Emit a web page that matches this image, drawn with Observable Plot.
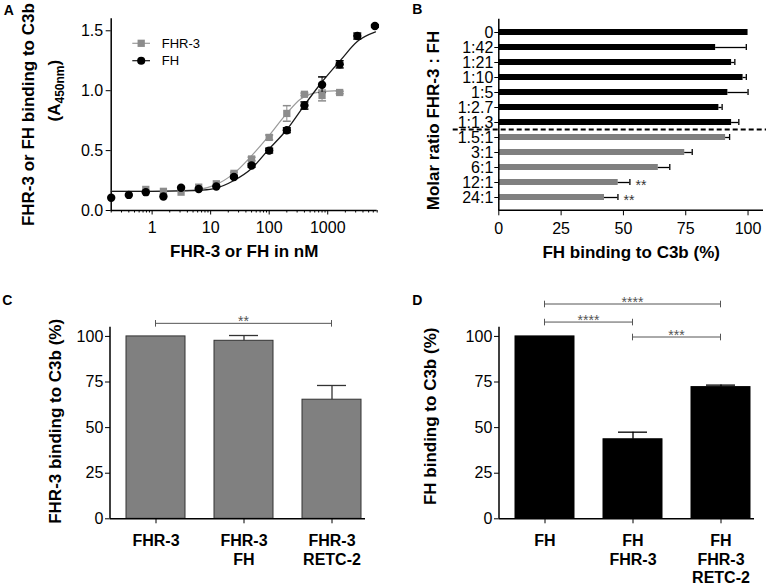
<!DOCTYPE html>
<html><head><meta charset="utf-8">
<script src="https://cdn.jsdelivr.net/npm/d3@7"></script>
<script src="https://cdn.jsdelivr.net/npm/@observablehq/plot@0.6"></script>
<style>
body{margin:0;background:#fff}
#fig{position:relative;width:767px;height:585px;background:#fff;overflow:hidden}
</style></head><body><div id="fig"></div>
<script>
// ---------- Panel A: dose response (A450nm) ----------
const fhConc   = [0.2,0.4,0.78,1.56,3.125,6.25,12.5,25,50,100,200,400,800,1600,3200,6400];
const fhAbs    = [0.106,0.13,0.153,0.117,0.19,0.18,0.20,0.28,0.376,0.50,0.67,0.876,1.05,1.22,1.456,1.54];
const fhErr    = [0,0,0,0,0,0,0,0.01,0.015,0.02,0.02,0.03,0.065,0.03,0.025,0.01];
const fhr3Conc = [0.78,1.56,3.125,6.25,12.5,25,50,100,200,400,800,1600];
const fhr3Abs  = [0.176,0.16,0.153,0.195,0.223,0.31,0.43,0.61,0.81,0.97,0.96,0.985];
const fhr3Err  = [0,0,0,0,0,0.01,0.015,0.02,0.065,0.01,0.045,0.01];
const fhFitConc   = [0.2,1,3,7,12,25,50,94,204,415,760,1660,3200,6550];
const fhFitAbs    = [0.16,0.16,0.163,0.17,0.185,0.25,0.35,0.5,0.68,0.89,1.06,1.255,1.41,1.49];
const fhr3FitConc = [0.2,1,3,6,11.5,25,48.5,94,192,345,760,1600];
const fhr3FitAbs  = [0.16,0.16,0.165,0.175,0.21,0.31,0.45,0.61,0.80,0.93,0.99,1.0];
const aYTicks  = [0,0.5,1,1.5];
const aXMajor  = [1,10,100,1000];
const aXMinor  = [0.2,0.3,0.4,0.5,0.6,0.7,0.8,0.9,2,3,4,5,6,7,8,9,20,30,40,50,60,70,80,90,200,300,400,500,600,700,800,900,2000,3000,4000,5000,6000,7000];
const aLegend  = ["FHR-3","FH"];

// ---------- Panel B: molar ratio ----------
const ratioCats  = ["0","1:42","1:21","1:10","1:5","1:2.7","1:1.3","1.5:1","3:1","6:1","12:1","24:1"];
const ratioPct   = [100,87,93.4,98,91.9,88.3,93.4,91,74.6,64,47.9,42.4];
const ratioErr   = [0,12.3,1.3,1.3,8.1,1.3,2.9,1.6,3,4.6,4.7,5.4];
const ratioGroup = ["FH","FH","FH","FH","FH","FH","FH","FHR-3","FHR-3","FHR-3","FHR-3","FHR-3"];
const ratioSig   = ["","","","","","","","","","","**","**"];
const bXTicks    = [0,25,50,75,100];

// ---------- Panel C ----------
const cCats = ["FHR-3","FHR-3\nFH","FHR-3\nRETC-2"];
const cPct  = [100,97.6,65.3];
const cErr  = [0,2.9,7.8];
const cSig  = [{from:"FHR-3", to:"FHR-3\nRETC-2", level:106.9, stars:"**"}];

// ---------- Panel D ----------
const dCats = ["FH","FH\nFHR-3","FH\nFHR-3\nRETC-2"];
const dPct  = [100,43.6,72.2];
const dErr  = [0,3.9,1.1];
const dSig  = [
  {from:"FH", to:"FH\nFHR-3\nRETC-2", level:117.5, stars:"****"},
  {from:"FH", to:"FH\nFHR-3", level:107.6, stars:"****"},
  {from:"FH\nFHR-3", to:"FH\nFHR-3\nRETC-2", level:99.4, stars:"***"}
];
const pctTicks = [0,25,50,75,100];

// ---------- helpers ----------
const FONT = "'Liberation Sans', Arial, Helvetica, sans-serif";
const TICK_FS = 16;
const baseStyle = {fontFamily: FONT, fontSize: "16px", color: "#000", background: "transparent"};
const fig = document.getElementById("fig");
function place(svg, left, top) {
  svg.style.position = "absolute"; svg.style.left = left + "px"; svg.style.top = top + "px";
  fig.appendChild(svg);
}
const capH = {draw(ctx, size) { const r = Math.sqrt(size / Math.PI); ctx.moveTo(-r, 0); ctx.lineTo(r, 0); }};
const axisLine = (side) => (index, scales, values, d) => {
  const l = d3.create("svg:line").attr("stroke", "#000").attr("stroke-width", 1.5);
  if (side === "left") l.attr("x1", d.marginLeft).attr("x2", d.marginLeft).attr("y1", d.marginTop).attr("y2", d.height - d.marginBottom);
  else l.attr("x1", d.marginLeft).attr("x2", d.width - d.marginRight).attr("y1", d.height - d.marginBottom).attr("y2", d.height - d.marginBottom);
  return l.node();
};
const bracketMark = (brackets, color) => (index, scales) => {
  const {x, y} = scales;
  const half = x.bandwidth ? x.bandwidth() / 2 : 0;
  const g = d3.create("svg:g").attr("stroke", color).attr("fill", "none").attr("stroke-width", 1);
  for (const b of brackets) {
    const x1 = x(b.from) + half, x2 = x(b.to) + half, yy = y(b.level);
    g.append("line").attr("x1", x1).attr("x2", x2).attr("y1", yy).attr("y2", yy);
    g.append("line").attr("x1", x1).attr("x2", x1).attr("y1", yy - 3.3).attr("y2", yy + 3.3);
    g.append("line").attr("x1", x2).attr("x2", x2).attr("y1", yy - 3.3).attr("y2", yy + 3.3);
    g.append("text").attr("x", (x1 + x2) / 2).attr("y", yy + 3).attr("text-anchor", "middle")
      .attr("stroke", "none").attr("fill", color).attr("font-size", 14).text(b.stars);
  }
  return g.node();
};
const letter = (ch, dx, dy) => Plot.text([ch], {text: d => d, frameAnchor: "top-left", textAnchor: "start", lineAnchor: "top", dx, dy, fontWeight: "bold", fontSize: 14});

// ---------- Panel A ----------
const fhData = fhConc.map((c, i) => ({c, v: fhAbs[i], e: fhErr[i]}));
const fhr3Data = fhr3Conc.map((c, i) => ({c, v: fhr3Abs[i], e: fhr3Err[i]}));
const fhFit = fhFitConc.map((c, i) => ({c, v: fhFitAbs[i]}));
const fhr3Fit = fhr3FitConc.map((c, i) => ({c, v: fhr3FitAbs[i]}));
const GREY_A = "#8c8c8c";

const legendA = (index, scales, values, d) => {
  const g = d3.create("svg:g").attr("font-size", 13);
  aLegend.forEach((name, i) => {
    const yy = 43.3 + i * 17.4, col = i === 0 ? GREY_A : "#000";
    g.append("line").attr("x1", 132.3).attr("x2", 150).attr("y1", yy).attr("y2", yy)
      .attr("stroke", i === 0 ? "#9a9a9a" : "#1a1a1a").attr("stroke-width", 1.2);
    g.append("path").attr("d", d3.symbol(i === 0 ? d3.symbolSquare : d3.symbolCircle, i === 0 ? 53 : 52)())
      .attr("transform", `translate(141.2,${yy})`).attr("fill", col);
    g.append("text").attr("x", 161.7).attr("y", yy).attr("dy", "0.35em").attr("text-anchor", "start")
      .attr("fill", "#000").text(name);
  });
  return g.node();
};

const plotA = Plot.plot({
  width: 383, height: 290,
  marginLeft: 110.7, marginRight: 6.3, marginTop: 18.3, marginBottom: 80,
  style: baseStyle,
  x: {type: "log", domain: [0.2, 7000]},
  y: {domain: [0, 1.6]},
  marks: [
    Plot.axisY({ticks: aYTicks, tickSize: 5, tickPadding: 3, tickFormat: d3.format(".1f"), label: null, fontSize: TICK_FS}),
    Plot.axisX({ticks: aXMajor, tickSize: 4.5, tickPadding: 6.5, tickFormat: d3.format("d"), label: null, fontSize: TICK_FS}),
    Plot.axisX({ticks: aXMinor, tickSize: 2.5, tickFormat: () => "", label: null}),
    Plot.ruleX([0.2], {strokeWidth: 1.5}),
    Plot.ruleY([0], {strokeWidth: 1.5}),
    Plot.line(fhr3Fit, {x: "c", y: "v", curve: "monotone-x", stroke: "#9a9a9a", strokeWidth: 1.2}),
    Plot.line(fhFit, {x: "c", y: "v", curve: "monotone-x", stroke: "#1a1a1a", strokeWidth: 1.3}),
    Plot.ruleX(fhr3Data.filter(d => d.e > 0), {x: "c", y1: d => d.v - d.e, y2: d => d.v + d.e, stroke: GREY_A}),
    Plot.dot(fhr3Data.filter(d => d.e > 0), {x: "c", y: d => d.v + d.e, symbol: capH, r: 4, stroke: GREY_A, fill: "none"}),
    Plot.dot(fhr3Data.filter(d => d.e > 0), {x: "c", y: d => d.v - d.e, symbol: capH, r: 4, stroke: GREY_A, fill: "none"}),
    Plot.ruleX(fhData.filter(d => d.e > 0), {x: "c", y1: d => d.v - d.e, y2: d => d.v + d.e, stroke: "#000"}),
    Plot.dot(fhData.filter(d => d.e > 0), {x: "c", y: d => d.v + d.e, symbol: capH, r: 4, stroke: "#000", fill: "none"}),
    Plot.dot(fhData.filter(d => d.e > 0), {x: "c", y: d => d.v - d.e, symbol: capH, r: 4, stroke: "#000", fill: "none"}),
    Plot.dot(fhr3Data, {x: "c", y: "v", symbol: "square", r: 4.1, fill: GREY_A}),
    Plot.dot(fhData, {x: "c", y: "v", symbol: "circle", r: 4.2, fill: "#000"}),
    legendA,
    Plot.text(["FHR-3 or FH binding to C3b"], {text: d => d, frameAnchor: "left", rotate: -90, textAnchor: "middle", lineAnchor: "middle", dx: -82.2, dy: 0, fontWeight: "bold", fontSize: 17}),
    Plot.text(["(A450nm)"], {text: d => d, frameAnchor: "left", rotate: -90, textAnchor: "middle", lineAnchor: "middle", dx: -56.2, dy: -24, fontWeight: "bold", fontSize: 17}),
    Plot.text(["FHR-3 or FH in nM"], {text: d => d, frameAnchor: "bottom", textAnchor: "middle", lineAnchor: "middle", dy: 41, fontWeight: "bold", fontSize: 17}),
    letter("A", -107.4, -13.3)
  ]
});
plotA.querySelectorAll("text").forEach(t => {
  if (t.textContent === "(A450nm)") {
    t.textContent = "";
    const ns = "http://www.w3.org/2000/svg";
    const a = document.createElementNS(ns, "tspan"); a.textContent = "(A"; t.appendChild(a);
    const s = document.createElementNS(ns, "tspan"); s.textContent = "450nm"; s.setAttribute("dy", "4"); s.setAttribute("font-size", "12"); t.appendChild(s);
    const c = document.createElementNS(ns, "tspan"); c.textContent = ")"; c.setAttribute("dy", "-4"); t.appendChild(c);
  }
});
place(plotA, 0, 0);

// ---------- Panel B ----------
const bData = ratioCats.map((cat, i) => ({cat, v: ratioPct[i], e: ratioErr[i], g: ratioGroup[i], s: ratioSig[i]}));
const plotB = Plot.plot({
  width: 387, height: 290,
  marginLeft: 118.3, marginRight: 4, marginTop: 18.7, marginBottom: 79.7,
  style: baseStyle,
  x: {domain: [0, 106.2]},
  y: {type: "band", domain: ratioCats, paddingInner: 0.62, paddingOuter: 0.31},
  marks: [
    Plot.axisY({tickSize: 4, tickPadding: 1.5, label: null, fontSize: TICK_FS}),
    Plot.axisX({ticks: bXTicks, tickSize: 5, tickPadding: 6.4, label: null, fontSize: TICK_FS}),
    Plot.barX(bData, {x: "v", y: "cat", fill: d => d.g === "FH" ? "#000" : "#808080"}),
    Plot.ruleY(bData.filter(d => d.e > 0), {y: "cat", x1: "v", x2: d => d.v + d.e, stroke: "#000", strokeWidth: 1.3}),
    Plot.tickX(bData.filter(d => d.e > 0), {y: "cat", x: d => d.v + d.e, stroke: "#000", strokeWidth: 1.3}),
    Plot.text(bData.filter(d => d.s), {y: "cat", x: d => d.v + d.e, text: "s", dx: 11, dy: 3, fontSize: 14, fill: "#333"}),
    Plot.ruleX([0], {strokeWidth: 1.5}),
    axisLine("bottom"),
    Plot.ruleY(["1.5:1"], {dy: -8, insetLeft: -45.6, insetRight: -3, stroke: "#000", strokeWidth: 2, strokeDasharray: "5,3"}),
    Plot.text(["Molar ratio FHR-3 : FH"], {text: d => d, frameAnchor: "left", rotate: -90, textAnchor: "middle", lineAnchor: "middle", dx: -65.3, dy: 5.5, fontWeight: "bold", fontSize: 17}),
    Plot.text(["FH binding to C3b (%)"], {text: d => d, frameAnchor: "bottom", textAnchor: "middle", lineAnchor: "middle", dy: 41.7, fontWeight: "bold", fontSize: 17}),
    letter("B", -86.6, -15.4)
  ]
});
place(plotB, 380, 0);

// ---------- Panels C & D ----------
function barPanel(cats, pct, err, sig, fill, stroke, errColor, title, titleDx, titleDy, letterCh, letterDx, ml, mr) {
  const data = cats.map((cat, i) => ({cat, v: pct[i], e: err[i]}));
  return Plot.plot({
    width: ml + 255 + mr, height: 295,
    marginLeft: ml, marginRight: mr, marginTop: 36.8, marginBottom: 66.7,
    style: baseStyle,
    x: {type: "band", domain: cats, paddingInner: 0.327, paddingOuter: 0.101, align: 0.8},
    y: {domain: [0, 105]},
    marks: [
      Plot.axisY({ticks: pctTicks, tickSize: 5, tickPadding: 2.2, label: null, fontSize: TICK_FS}),
      Plot.axisX({tickSize: 5, tickFormat: () => "", label: null}),
      Plot.barY(data, {x: "cat", y: "v", fill, stroke, strokeWidth: 1}),
      Plot.ruleX(data.filter(d => d.e > 0), {x: "cat", y1: "v", y2: d => d.v + d.e, stroke: errColor, strokeWidth: 1.3}),
      Plot.tickY(data.filter(d => d.e > 0), {x: "cat", y: d => d.v + d.e, insetLeft: 15, insetRight: 15, stroke: errColor, strokeWidth: 1.3}),
      Plot.ruleY([0], {strokeWidth: 1.5}),
      axisLine("left"),
      bracketMark(sig, "#555"),
      Plot.text(cats, {x: d => d, text: d => d, frameAnchor: "bottom", lineAnchor: "top", dy: 14.4, lineHeight: 1.156, fontWeight: "bold", fontSize: 16}),
      Plot.text([title], {text: d => d, frameAnchor: "left", rotate: -90, textAnchor: "middle", lineAnchor: "middle", dx: titleDx, dy: titleDy, fontWeight: "bold", fontSize: 17}),
      letter(letterCh, letterDx, -31.8)
    ]
  });
}
const plotC = barPanel(cCats, cPct, cErr, cSig, "#808080", "#333", "#333", "FHR-3 binding to C3b (%)", -55, -1.7, "C", -108.3, 110, 15);
place(plotC, 0, 290);
const plotD = barPanel(dCats, dPct, dErr, dSig, "#000", "#000", "#000", "FH binding to C3b (%)", -69, -6.7, "D", -87.3, 119, 13);
place(plotD, 380, 290);
</script>
</body></html>
